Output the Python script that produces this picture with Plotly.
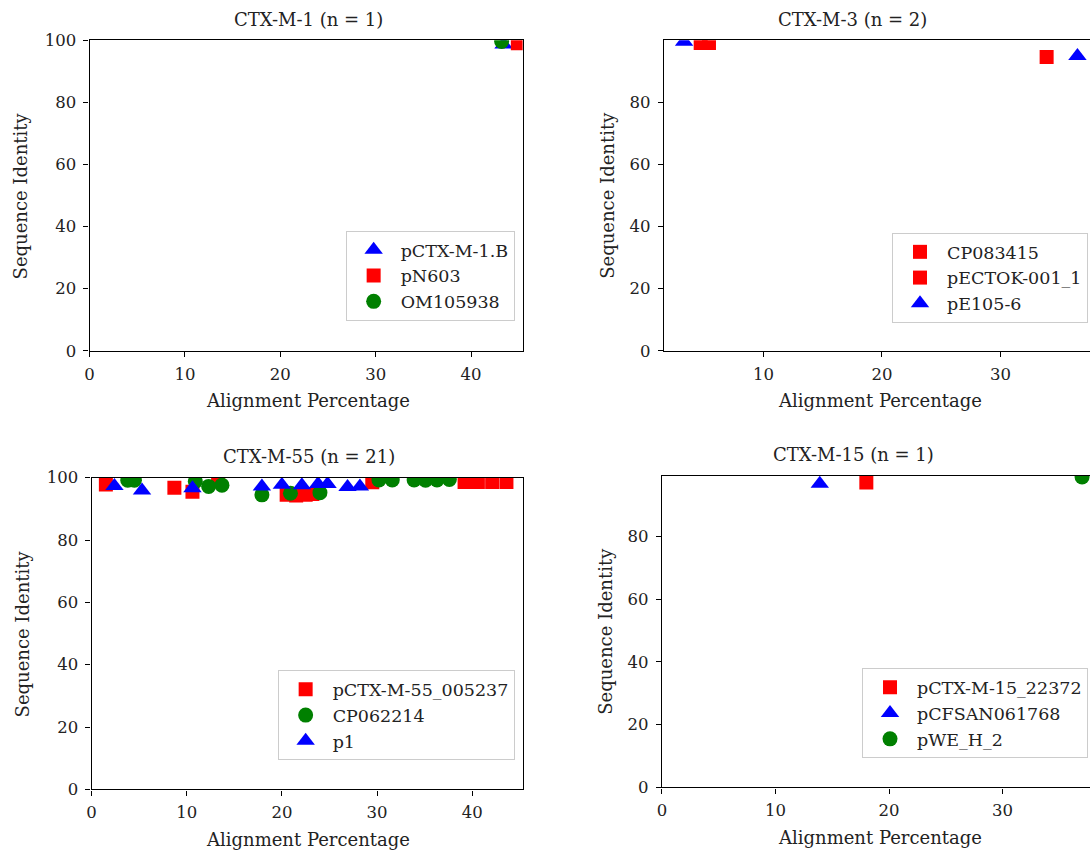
import plotly.graph_objects as go

FONT = "DejaVu Serif"
W, H = 1090, 850

# ---------------- data ----------------
# Panel 1: CTX-M-1 (n = 1)
p1_title = "CTX-M-1 (n = 1)"
p1_names = ["pCTX-M-1.B", "pN603", "OM105938"]
p1_x = [[43.4], [44.9], [43.2]]
p1_y = [[98.6], [99.0], [99.6]]

# Panel 2: CTX-M-3 (n = 2)
p2_title = "CTX-M-3 (n = 2)"
p2_names = ["CP083415", "pECTOK-001_1", "pE105-6"]
p2_x = [[4.7, 33.9], [5.4], [3.3, 36.5]]
p2_y = [[99.0, 94.5], [99.0], [99.4, 94.8]]

# Panel 3: CTX-M-55 (n = 21)
p3_title = "CTX-M-55 (n = 21)"
p3_names = ["pCTX-M-55_005237", "CP062214", "p1"]
p3_x = [
    [1.5, 8.7, 10.6, 13.3, 20.5, 21.5, 22.5, 23.2, 29.5, 39.2, 40.6, 42.1, 43.6],
    [3.8, 4.5, 10.9, 12.3, 13.7, 17.9, 20.9, 24.0, 30.2, 31.6, 33.9, 35.1, 36.3, 37.6],
    [2.4, 5.3, 10.6, 17.9, 20.0, 22.1, 23.8, 24.8, 26.9, 28.2],
]
p3_y = [
    [97.8, 96.8, 95.5, 99.0, 94.5, 94.3, 94.5, 94.8, 98.5, 98.6, 98.6, 98.6, 98.6],
    [99.2, 99.2, 98.8, 97.2, 97.6, 94.5, 95.0, 95.2, 99.3, 99.3, 99.3, 99.2, 99.3, 99.4],
    [97.3, 95.9, 96.6, 97.2, 97.7, 97.6, 98.0, 98.0, 97.0, 97.2],
]

# Panel 4: CTX-M-15 (n = 1)
p4_title = "CTX-M-15 (n = 1)"
p4_names = ["pCTX-M-15_22372", "pCFSAN061768", "pWE_H_2"]
p4_x = [[18.0], [13.9], [37.0]]
p4_y = [[97.2], [96.8], [99.0]]

x_label = "Alignment Percentage"
y_label = "Sequence Identity"

# ---------------- styling ----------------
STY = {
    "sq": dict(symbol="square", color="red", size=14),
    "tri": dict(symbol="triangle-up", color="blue", size=16),
    "cir": dict(symbol="circle", color="green", size=15),
}
TICK_FS = 16.5
TXT_FS = 18
LEG_FS = 17.5
TXT_COL = "#222222"

# vertical placement helper (pixel row -> paper coordinate)
SY, OY = 0.9787, 7.8


def fy(py):
    return 1 - ((py - OY) / SY) / H


def fx(px):
    return px / W


panels = [
    dict(title=p1_title, names=p1_names, xs=p1_x, ys=p1_y, sty=["tri", "sq", "cir"],
         dom_x=(85, 520), dom_y=(39, 350), xr=[0, 45.4], yr=[0, 100], mirror_y=True,
         title_x=305, xlab_x=304, ylab_dx=69, legend_box=(512, 230)),
    dict(title=p2_title, names=p2_names, xs=p2_x, ys=p2_y, sty=["sq", "sq", "tri"],
         dom_x=(662, 1090), dom_y=(39, 350), xr=[1.6, 37.56], yr=[0, 99.9], mirror_y=False,
         title_x=851, xlab_x=879, ylab_dx=57, legend_box=(1088, 232)),
    dict(title=p3_title, names=p3_names, xs=p3_x, ys=p3_y, sty=["sq", "cir", "tri"],
         dom_x=(87, 520), dom_y=(477, 789), xr=[0, 45.3], yr=[0, 100], mirror_y=True,
         title_x=305, xlab_x=304, ylab_dx=69, legend_box=(512, 670)),
    dict(title=p4_title, names=p4_names, xs=p4_x, ys=p4_y, sty=["sq", "tri", "cir"],
         dom_x=(660, 1090), dom_y=(475, 787), xr=[0, 37.7], yr=[0, 99.4], mirror_y=False,
         title_x=852, xlab_x=879, ylab_dx=57, legend_box=(1088, 668)),
]

fig = go.Figure()
layout = dict(
    width=W, height=H,
    margin=dict(l=0, r=0, t=0, b=0),
    paper_bgcolor="white", plot_bgcolor="white",
    font=dict(family=FONT, size=TICK_FS, color=TXT_COL),
    showlegend=True,
)
annotations = []

for i, p in enumerate(panels, start=1):
    xa = "x" if i == 1 else f"x{i}"
    ya = "y" if i == 1 else f"y{i}"
    lg = "legend" if i == 1 else f"legend{i}"
    for name, xs, ys, s in zip(p["names"], p["xs"], p["ys"], p["sty"]):
        fig.add_trace(go.Scatter(
            x=xs, y=ys, mode="markers", name=name,
            marker=dict(symbol=STY[s]["symbol"], color=STY[s]["color"], size=STY[s]["size"],
                        line=dict(width=0)),
            xaxis=xa, yaxis=ya, legend=lg,
        ))
    x0, x1 = p["dom_x"]
    t, b = p["dom_y"]
    axis_common = dict(
        showgrid=False, zeroline=False, showline=True, linecolor="black", linewidth=1.3,
        ticks="outside", ticklen=5, tickwidth=1.1, tickcolor="black",
        tickfont=dict(family=FONT, size=TICK_FS, color=TXT_COL),
    )
    layout["xaxis" if i == 1 else f"xaxis{i}"] = dict(
        domain=[fx(x0), min(fx(x1), 1.0)], anchor=ya, range=p["xr"],
        tick0=0, dtick=10, mirror=True, ticklabelstandoff=3, **axis_common)
    layout["yaxis" if i == 1 else f"yaxis{i}"] = dict(
        domain=[fy(b), fy(t)], anchor=xa, range=p["yr"],
        tick0=0, dtick=20, mirror=p["mirror_y"], ticklabelstandoff=4, **axis_common)
    lx, ly = p["legend_box"]
    layout[lg] = dict(
        x=fx(lx), y=fy(ly), xanchor="right", yanchor="top",
        xref="paper", yref="paper",
        bgcolor="white", bordercolor="#cccccc", borderwidth=1,
        font=dict(family=FONT, size=LEG_FS, color=TXT_COL),
        itemsizing="trace", itemwidth=44, tracegroupgap=0,
    )
    annotations.append(dict(text=p["title"], x=fx(p["title_x"]), y=fy(t - 21),
                            xref="paper", yref="paper", showarrow=False,
                            xanchor="center", yanchor="middle",
                            font=dict(family=FONT, size=TXT_FS, color=TXT_COL)))
    annotations.append(dict(text=x_label, x=fx(p["xlab_x"]), y=fy(b + 50),
                            xref="paper", yref="paper", showarrow=False,
                            xanchor="center", yanchor="middle",
                            font=dict(family=FONT, size=TXT_FS, color=TXT_COL)))
    annotations.append(dict(text=y_label, x=fx(x0 - p["ylab_dx"]), y=fy((t + b) / 2),
                            xref="paper", yref="paper", showarrow=False, textangle=-90,
                            xanchor="center", yanchor="middle",
                            font=dict(family=FONT, size=TXT_FS, color=TXT_COL)))

layout["annotations"] = annotations
fig.update_layout(**layout)
fig.write_html(
    "out.html",
    config={"displayModeBar": False},
    post_script="document.body.style.margin='0';document.body.style.overflow='hidden';",
)
